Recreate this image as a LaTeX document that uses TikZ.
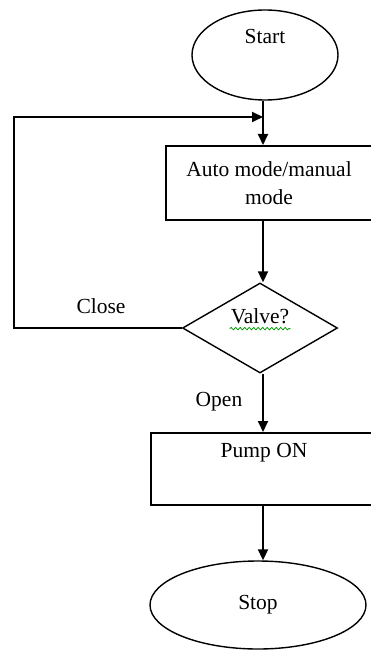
\documentclass[tikz,border=0pt]{standalone}
\usepackage{fontspec}
\setmainfont{Liberation Serif}
\usetikzlibrary{shapes.geometric,arrows.meta,decorations.pathmorphing}
\begin{document}
\begin{tikzpicture}[x=1pt,y=-1pt,
  line width=2pt,
  every node/.style={font=\fontsize{21.5}{28}\selectfont},
  term/.style={draw, ellipse, line width=1.4pt, inner sep=0pt, align=center},
  procbox/.style={draw, rectangle, inner sep=0pt, align=center},
  decbox/.style={draw, diamond, line width=1.4pt, inner sep=0pt},
  lbl/.style={inner sep=0pt},
  arr/.style={-{Triangle[width=10pt,length=11pt]}}]
\useasboundingbox (0,0) rectangle (371,652);
\clip (0,0) rectangle (371,652);
\fill[white] (0,0) rectangle (371,652);
% nodes
\node[term, minimum width=146pt, minimum height=90pt] (start) at (265,55) {Start\\\strut};
\node[procbox, minimum width=206pt, minimum height=74pt] (auto) at (269,183) {Auto mode/manual\\mode};
\node[decbox, minimum width=155pt, minimum height=90pt] (valve) at (260,328) {};
\node[lbl] (vt) at (260,316) {Valve?};
\node[procbox, minimum width=226pt, minimum height=72pt] (pump) at (264,469) {Pump ON\\\strut};
\node[term, minimum width=216pt, minimum height=88pt] (stop) at (258,605) {Stop};
\node[lbl] (close) at (101,306) {Close};
\node[lbl] (open) at (219,402) {Open};
% coordinates
\coordinate (m) at (263,0);
\coordinate (L) at (14,0);
\coordinate (J) at (263,117);
% spell-check squiggle
\draw[green!60!black, line width=0.8pt, decorate, decoration={snake, amplitude=1.2pt, segment length=4.5pt}]
  ([yshift=-4pt]vt.south west) -- ([yshift=-4pt]vt.south east);
% connectors
\draw[arr] (start.south -| m) -- (auto.north -| m);
\draw[arr] (auto.south -| m) -- (valve.north -| m);
\draw[arr] (valve.south -| m) -- (pump.north -| m);
\draw[arr] (pump.south -| m) -- (stop.north -| m);
\draw[arr] (valve.west) -- (valve.west -| L) |- (J);
\end{tikzpicture}
\end{document}
